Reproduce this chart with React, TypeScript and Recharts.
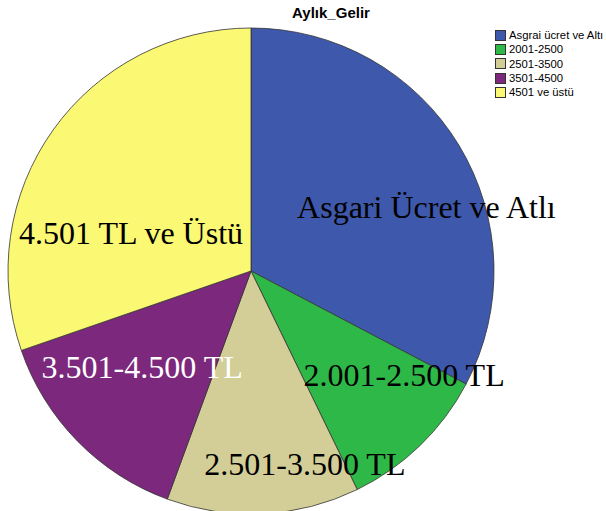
import { Legend, Pie, PieChart } from "recharts";

const categories = ["Asgrai ücret ve Altı", "2001-2500", "2501-3500", "3501-4500", "4501 ve üstü"];
const sliceLabels = ["Asgari Ücret ve Atlı", "2.001-2.500 TL", "2.501-3.500 TL", "3.501-4.500 TL", "4.501 TL ve Üstü"];
const shares = [32.7, 10.1, 12.8, 14.1, 30.3];
const colors = ["#3E58AC", "#2EB848", "#D3CE97", "#7C287D", "#FBF873"];
const labelColors = ["#000", "#000", "#000", "#fff", "#000"];

// where each big label sits: angle clockwise from 12 o'clock, radius as share of outer radius
const labelSpots = [
  { angle: 73.2, r: 0.754 },
  { angle: 126.9, r: 0.788 },
  { angle: 165.2, r: 0.868 },
  { angle: 225.5, r: 0.628 },
  { angle: 282.7, r: 0.506 },
];

const data = categories.map((name, i) => ({
  name,
  value: shares[i],
  fill: colors[i],
  label: sliceLabels[i],
}));

const serif = '"Liberation Serif", "Times New Roman", serif';
const sans = '"Liberation Sans", Arial, sans-serif';

function renderLabel(props: any) {
  const { cx, cy, outerRadius, index } = props;
  const spot = labelSpots[index];
  const rad = (spot.angle * Math.PI) / 180;
  const x = cx + spot.r * outerRadius * Math.sin(rad);
  const y = cy - spot.r * outerRadius * Math.cos(rad);
  return (
    <text
      x={x}
      y={y}
      textAnchor="middle"
      fontFamily={serif}
      fontSize={32}
      fill={labelColors[index]}
    >
      {sliceLabels[index]}
    </text>
  );
}

function renderLegend() {
  return (
    <div style={{ fontFamily: sans, fontSize: 11.3, lineHeight: "14.3px", color: "#000", whiteSpace: "nowrap" }}>
      {categories.map((c, i) => (
        <div key={c} style={{ display: "flex", alignItems: "center", height: 14.3 }}>
          <span
            style={{
              display: "inline-block",
              width: 9,
              height: 9,
              background: colors[i],
              border: "1px solid #333",
              marginRight: 3,
            }}
          />
          {c}
        </div>
      ))}
    </div>
  );
}

export default function App() {
  return (
    <div style={{ position: "absolute", left: 0, top: 0, width: 606, height: 511, overflow: "hidden", background: "#fff" }}>
      <div
        style={{
          position: "absolute",
          left: 231,
          width: 200,
          top: 4,
          textAlign: "center",
          fontFamily: sans,
          fontWeight: "bold",
          fontSize: 15,
          zIndex: 2,
        }}
      >
        Aylık_Gelir
      </div>
      <PieChart width={606} height={511} margin={{ top: 0, right: 0, bottom: 0, left: 0 }}>
        <Pie
          data={data}
          dataKey="value"
          nameKey="name"
          cx={251}
          cy={271}
          outerRadius={243}
          startAngle={90}
          endAngle={-270}
          stroke="#333"
          strokeWidth={0.8}
          label={renderLabel}
          labelLine={false}
          isAnimationActive={false}
        />
        <Legend
          content={renderLegend}
          layout="vertical"
          verticalAlign="top"
          align="right"
          wrapperStyle={{ top: 28, left: 495, width: 130 }}
        />
      </PieChart>
    </div>
  );
}
